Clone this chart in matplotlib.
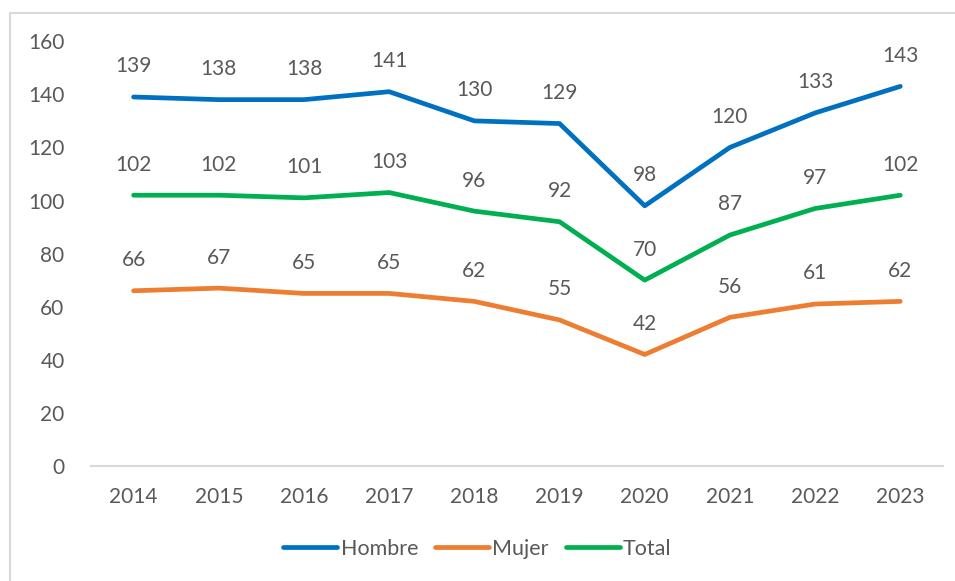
import matplotlib.pyplot as plt
from matplotlib.patches import Rectangle

years = ['2014', '2015', '2016', '2017', '2018', '2019', '2020', '2021', '2022', '2023']
hombre = [139, 138, 138, 141, 130, 129, 98, 120, 133, 143]
mujer = [66, 67, 65, 65, 62, 55, 42, 56, 61, 62]
total = [102, 102, 101, 103, 96, 92, 70, 87, 97, 102]

series = [('Hombre', hombre, '#0070C0'),
          ('Mujer', mujer, '#ED7D31'),
          ('Total', total, '#00B050')]

text_color = '#595959'
plt.rcParams['font.family'] = ['Lato', 'DejaVu Sans']

fig = plt.figure(figsize=(9.55, 5.81), dpi=100)
ax = fig.add_axes([0.0953, 0.198, 0.892, 0.731])

# light border of the chart area
fig.add_artist(Rectangle((10 / 955, -0.1), 1.2, 1 - 13 / 581 + 0.1,
                         transform=fig.transFigure, fill=False,
                         edgecolor='#D9D9D9', linewidth=1.5))

x = list(range(len(years)))
for name, vals, color in series:
    ax.plot(x, vals, color=color, linewidth=3.4, label=name,
            solid_capstyle='round', solid_joinstyle='round')
    for xi, v in zip(x, vals):
        ax.annotate(str(v), (xi, v), xytext=(0, 22), textcoords='offset points',
                    ha='center', va='center', fontsize=15, color=text_color)

ax.set_xlim(-0.5, len(years) - 0.5)
ax.set_ylim(0, 160)
ax.set_yticks(range(0, 161, 20))
ax.set_xticks(x)
ax.set_xticklabels(years)
ax.tick_params(axis='both', length=0, labelsize=15, labelcolor=text_color)
ax.tick_params(axis='y', pad=19)
ax.tick_params(axis='x', pad=15)

for side in ['top', 'right', 'left']:
    ax.spines[side].set_visible(False)
ax.spines['bottom'].set_color('#D9D9D9')
ax.spines['bottom'].set_linewidth(1.5)

leg = fig.legend(loc='center', bbox_to_anchor=(0.5, 1 - 549 / 581), ncol=3,
                 frameon=False, fontsize=15.5, handlelength=2.5,
                 handletextpad=0.15, columnspacing=0.8)
for t in leg.get_texts():
    t.set_color(text_color)

fig.savefig('out.png', dpi=100)
